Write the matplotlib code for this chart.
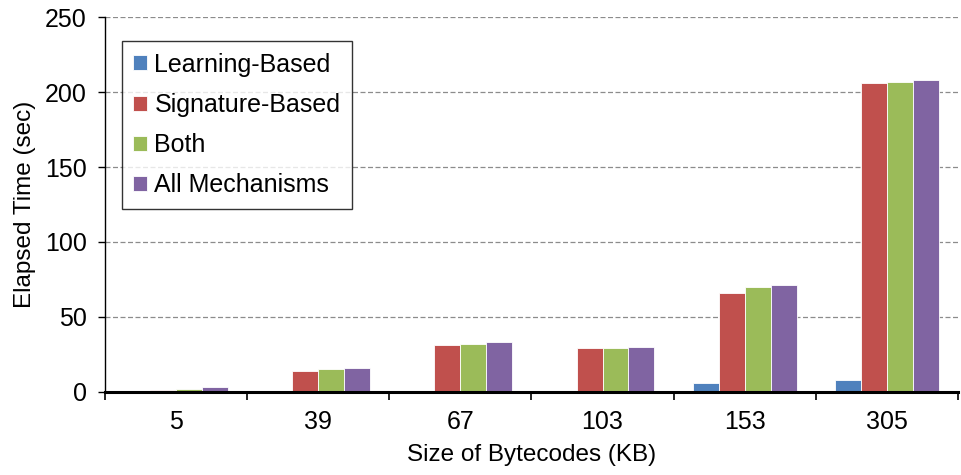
import numpy as np
import matplotlib.pyplot as plt

plt.rcParams['font.family'] = ['Liberation Sans', 'DejaVu Sans']

sizes = ['5', '39', '67', '103', '153', '305']
learning = [0.3, 0.5, 0.5, 0.5, 6, 8]
signature = [1.5, 14, 31.5, 29, 66, 206]
both = [2, 15, 32, 29.5, 70, 206.5]
all_mech = [3.5, 16, 33, 30, 71, 208]

series = [('Learning-Based', learning, '#4F81BD'),
          ('Signature-Based', signature, '#C0504D'),
          ('Both', both, '#9BBB59'),
          ('All Mechanisms', all_mech, '#8064A2')]

fig = plt.figure(figsize=(9.61, 4.75), dpi=100)
ax = fig.add_axes([0.109, 0.175, 0.888, 0.789])
ax.set_axisbelow(True)

x = np.arange(len(sizes))
w = 0.182
for i, (name, vals, col) in enumerate(series):
    ax.bar(x + (i - 1.5) * w, vals, w, color=col, label=name,
           edgecolor='white', linewidth=0.6, zorder=1)

ax.set_xlim(-0.5, len(sizes) - 0.5)
ax.set_ylim(0, 250)
ax.set_yticks(range(0, 251, 50))
ax.set_xticks(x)
ax.set_xticklabels(sizes)
ax.set_xticks(np.arange(-0.5, len(sizes), 1), minor=True)
ax.tick_params(axis='x', which='major', length=0, labelsize=18, pad=13)
ax.tick_params(axis='x', which='minor', length=6, width=1.2, direction='out')
ax.tick_params(axis='y', labelsize=18, length=5, width=1.0, direction='out', pad=8)

ax.yaxis.grid(True, linestyle=(0, (4, 2)), color='#8c8c8c', linewidth=0.9)
for s in ['top', 'right']:
    ax.spines[s].set_visible(False)
ax.spines['left'].set_linewidth(1.0)
ax.spines['bottom'].set_linewidth(2.2)
ax.spines['bottom'].set_zorder(3)

ax.set_xlabel('Size of Bytecodes (KB)', fontsize=17.5, labelpad=7)
ax.set_ylabel('Elapsed Time (sec)', fontsize=17.5, labelpad=6)

leg = ax.legend(loc='upper left', bbox_to_anchor=(0.02, 0.935), fontsize=18,
                frameon=True, fancybox=False, edgecolor='black',
                handlelength=0.55, handleheight=0.55, handletextpad=0.3,
                labelspacing=0.65, borderpad=0.45, borderaxespad=0)
leg.get_frame().set_linewidth(1.0)

fig.savefig('out.png', dpi=100)
